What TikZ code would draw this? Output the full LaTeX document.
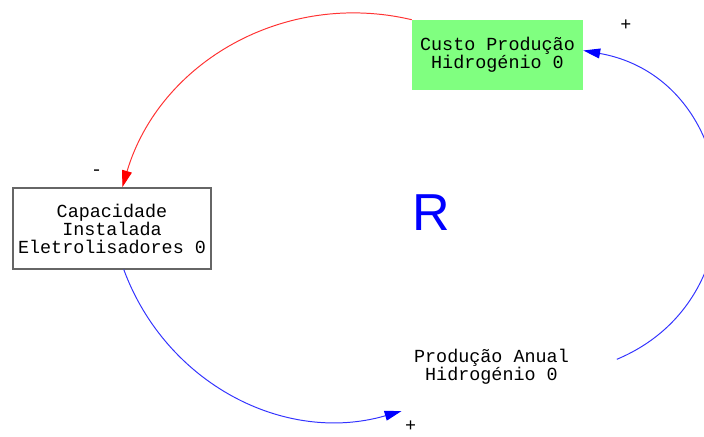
\documentclass[tikz,border=0pt]{standalone}
\usepackage{fontspec}
\setmonofont{Liberation Mono}
\newfontfamily\loopfont{Liberation Sans}
\usetikzlibrary{arrows.meta}

\definecolor{stockgreen}{HTML}{80FF80}

\begin{document}
\begin{tikzpicture}[
        vartext/.style={font=\ttfamily\fontsize{13.1}{12.8}\selectfont, align=center, inner sep=0pt},
        greenbox/.style={vartext, fill=stockgreen, minimum width=4.275cm, minimum height=1.75cm},
        whitebox/.style={vartext, draw=black!60, line width=0.9pt, fill=white, minimum width=4.95cm, minimum height=2.025cm},
        signtext/.style={font=\ttfamily\fontsize{13.1}{12.8}\selectfont, inner sep=0pt},
        poslink/.style={blue!80, line width=0.7pt, -{Triangle[length=12pt, width=7pt, color=blue]}},
        neglink/.style={red!80, line width=0.7pt, -{Triangle[length=12pt, width=7pt, color=red]}}
    ]

        % Frame
        \useasboundingbox (0,0) rectangle (17.6,10.9);
        \clip (0,0) rectangle (17.6,10.9);

        % Variables
        \node[greenbox] (cost) at (12.4375,9.525) {Custo Produção\\Hidrogénio 0};
        \node[whitebox] (cap) at (2.8,5.1875) {Capacidade\\Instalada\\Eletrolisadores 0};
        \node[vartext] (prod) at (12.2875,1.7375) {Produção Anual\\Hidrogénio 0};

        % Loop marker
        \node[text=blue, font=\loopfont\fontsize{37}{37}\selectfont, anchor=base, inner sep=0pt] (loop) at (10.7825,5.1325) {R};

        % Links
        \draw[neglink] (cost.north west) to[out=166.7, in=73.4] (cap.76);
        \draw[poslink] (cap.-74) to[out=290.3, in=196.2] ([shift={(-0.3075,-0.6675)}]prod.south west);
        \draw[poslink] ([shift={(1.1925,0.18)}]prod.east) to[out=22.7, in=-10.1, looseness=1.33] (cost.3);

        % Polarities
        \node[signtext] (pol1) at (15.65,10.275) {+};
        \node[signtext] (pol2) at (2.4175,6.5925) {-};
        \node[signtext] (pol3) at (10.2675,0.24) {+};

    \end{tikzpicture}
\end{document}
